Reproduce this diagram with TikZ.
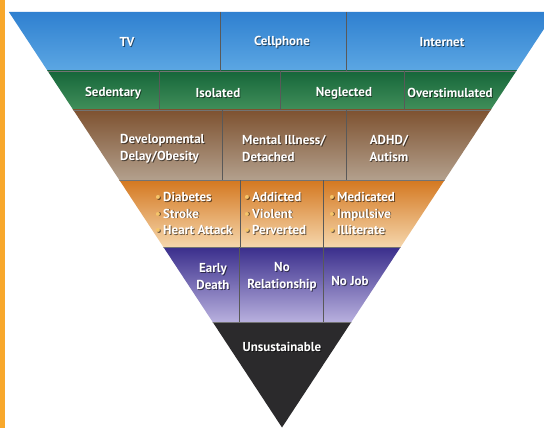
\documentclass[tikz,border=0pt]{standalone}
\usepackage{fontspec}
\setsansfont{PT Sans}
\definecolor{barorange}{HTML}{F8A82C}
\definecolor{blueT}{HTML}{2F80D0}
\definecolor{blueB}{HTML}{5CA7E3}
\definecolor{greenT}{HTML}{16663A}
\definecolor{greenB}{HTML}{418F5A}
\definecolor{brownT}{HTML}{7E5230}
\definecolor{brownB}{HTML}{B3A08D}
\definecolor{orangeT}{HTML}{D47820}
\definecolor{orangeB}{HTML}{F5D6AC}
\definecolor{purpleT}{HTML}{3A2E8C}
\definecolor{purpleB}{HTML}{B8B0DE}
\definecolor{blackband}{HTML}{2B2A2C}
\definecolor{bulletc}{HTML}{F6C56A}
\newcommand{\lblfont}{\fontsize{13}{16.8}\selectfont\sffamily\bfseries}
\def\bcol{bulletc}
\newcommand{\bl}{\textcolor{\bcol}{•}\,}
\tikzset{
  lbl/.style={text=white, font=\lblfont, inner sep=0pt},
  lblshadow/.style={text=black, opacity=0.55, font={\def\bcol{black}\lblfont}, inner sep=0pt},
  divider/.style={draw=black!65, line width=0.8pt},
  bandline/.style={draw=black!55, line width=0.8pt},
}
% label with a soft drop shadow: [options]{name}{position}{text}
\newcommand{\lbl}[4][]{%
  \node[lblshadow,#1,xshift=0.9pt,yshift=-0.9pt] at (#3) {#4};
  \node[lbl,#1] (#2) at (#3) {#4};}
\begin{document}
\begin{tikzpicture}[x=1pt,y=-1pt]
\useasboundingbox (0,0) rectangle (544,428);
\fill[white] (0,0) rectangle (544,428);
\fill[barorange] (0,0) rectangle (5,428);

% the inverted triangle, cut into shaded bands
\begin{scope}
  \clip (0,0) rectangle (544,428);
  \clip (8.9,12) -- (555.1,12) -- (282,427.5) -- cycle;
  \shade[top color=blueT,bottom color=blueB] (0,12) rectangle (560,71);
  \shade[top color=greenT,bottom color=greenB] (0,71) rectangle (560,110);
  \shade[top color=brownT,bottom color=brownB] (0,110) rectangle (560,180);
  \shade[top color=orangeT,bottom color=orangeB] (0,180) rectangle (560,247);
  \shade[top color=purpleT,bottom color=purpleB] (0,247) rectangle (560,322);
  \fill[blackband] (0,322) rectangle (560,428);
  % band boundaries
  \foreach \y in {71,110,180,247,322}
    \draw[bandline] (0,\y) -- (560,\y);
  % cell dividers
  \draw[divider] (220,12) -- (220,71);
  \draw[divider] (346,12) -- (346,71);
  \draw[divider] (159,71) -- (159,110);
  \draw[divider] (280,71) -- (280,110);
  \draw[divider] (404,71) -- (404,110);
  \draw[divider] (222,110) -- (222,180);
  \draw[divider] (346,110) -- (346,180);
  \draw[divider] (240,180) -- (240,247);
  \draw[divider] (323,180) -- (323,247);
  \draw[divider] (239,247) -- (239,322);
  \draw[divider] (323,247) -- (323,322);
\end{scope}

% media
\lbl{tv}{127,42}{TV}
\lbl{cell}{282,42}{Cellphone}
\lbl{net}{442,42}{Internet}
% effects on the child
\lbl{sed}{113,93}{Sedentary}
\lbl{iso}{218,93}{Isolated}
\lbl{neg}{344,93}{Neglected}
\lbl{over}{450,93}{Overstimulated}
% conditions
\lbl[anchor=west,align=left]{dev}{120,148.5}{Developmental\\Delay/Obesity}
\lbl[anchor=west,align=left]{mental}{242,148.5}{Mental Illness/\\Detached}
\lbl[align=center]{adhd}{389,148.5}{ADHD/\\Autism}
% consequences
\lbl[anchor=west,align=left]{health}{155,213.5}{\bl Diabetes\\\bl Stroke\\\bl Heart Attack}
\lbl[anchor=west,align=left]{behav}{244,213.5}{\bl Addicted\\\bl Violent\\\bl Perverted}
\lbl[anchor=west,align=left]{school}{329,213.5}{\bl Medicated\\\bl Impulsive\\\bl Illiterate}
% outcomes
\lbl[align=center]{death}{213,276.5}{Early\\Death}
\lbl[align=center]{rel}{282,276.5}{No\\Relationship}
\lbl{job}{350,281}{No Job}
\lbl{unsus}{282,347}{Unsustainable}
\end{tikzpicture}
\end{document}
